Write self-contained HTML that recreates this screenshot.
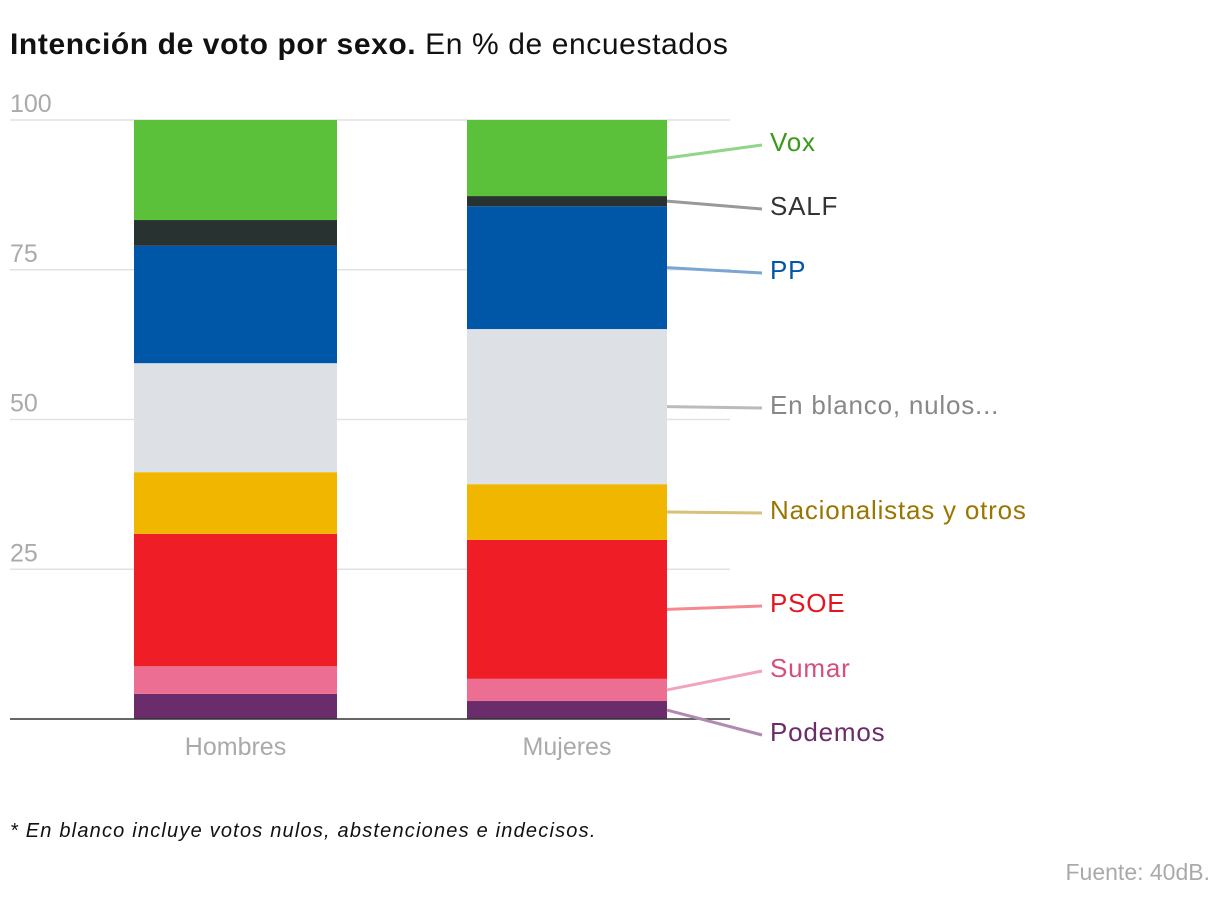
<!DOCTYPE html>
<html><head><meta charset="utf-8"><style>
body{margin:0;background:#fff;font-family:"Liberation Sans",sans-serif}
</style></head><body>
<svg width="1220" height="900" xmlns="http://www.w3.org/2000/svg">
<text x="10" y="54" font-size="30" fill="#111" letter-spacing="0.6"><tspan font-weight="bold">Intención de voto por sexo.</tspan> En % de encuestados</text>
<g id="grid"></g><g id="bars"></g><g id="labels"></g>
<text x="10" y="837" font-size="20" font-style="italic" fill="#111" letter-spacing="1.2">* En blanco incluye votos nulos, abstenciones e indecisos.</text>
<text x="1210" y="880" font-size="23" fill="#aaa" text-anchor="end">Fuente: 40dB.</text>
</svg>
<script>
const categories=["Hombres","Mujeres"];
const parties=["Podemos","Sumar","PSOE","Nacionalistas y otros","En blanco, nulos...","PP","SALF","Vox"];
const hombres=[4.2,4.6,22.1,10.3,18.2,19.6,4.3,16.7];
const mujeres=[3.0,3.7,23.2,9.3,25.9,20.5,1.7,12.7];
const ticks=[0,25,50,75,100];
const colors=["#6a2c6a","#ec6f93","#ee1d26","#f1b700","#dde1e5","#0057a8","#283230","#5cc13a"];
const lineColors=["#b08ab0","#f0a4bd","#f48a8f","#d6c07a","#bbbbbb","#7aa7d2","#999999","#8fd68a"];
const textColors=["#6a2c6a","#d4507c","#e3161f","#9a7600","#888888","#0057a8","#333333","#3a9a1a"];
const labelY=[732,668,603,510,405,270,206,142];
const ns="http://www.w3.org/2000/svg";
const y0=719,y1=120;
const yScale=v=>y0-(v/100)*(y0-y1);
const barX=[134,467],barW=[203,200];
function mk(t,a,p){const e=document.createElementNS(ns,t);for(const k in a)e.setAttribute(k,a[k]);p.appendChild(e);return e;}
const grid=document.getElementById('grid'),bars=document.getElementById('bars'),labels=document.getElementById('labels');
ticks.forEach(t=>{const y=yScale(t);
 if(t>0){const l=mk('line',{x1:10,x2:730,y1:y,y2:y,stroke:'#e2e2e2','stroke-width':1.5},grid);
 
 
 const tx=mk('text',{x:10,y:y-8,'font-size':25,fill:'#aaa'},grid);tx.textContent=t;
 
 }
});
[hombres,mujeres].forEach((vals,ci)=>{let cum=0;
 vals.forEach((v,i)=>{const ya=yScale(cum+v),yb=yScale(cum);
  const r=mk('rect',{x:barX[ci],y:ya,width:barW[ci],height:yb-ya,fill:colors[i]},bars);
  
  
  if(ci===1){const ym=(ya+yb)/2;
   const l=mk('line',{x1:667,y1:ym,x2:762,y2:labelY[i]+3,stroke:lineColors[i],'stroke-width':3},labels);
   
   
   const t=mk('text',{x:770,y:labelY[i]+9,'font-size':26,'letter-spacing':0.8,fill:textColors[i]},labels);t.textContent=parties[i];
   
   }
  cum+=v;});
 const t=mk('text',{x:barX[ci]+barW[ci]/2,y:755,'font-size':25,fill:'#aaa','text-anchor':'middle'},bars);t.textContent=categories[ci];
 
 
});
const base=mk('line',{x1:10,x2:730,y1:y0,y2:y0,stroke:'#333','stroke-width':1.5},bars);


</script>
</body></html>
